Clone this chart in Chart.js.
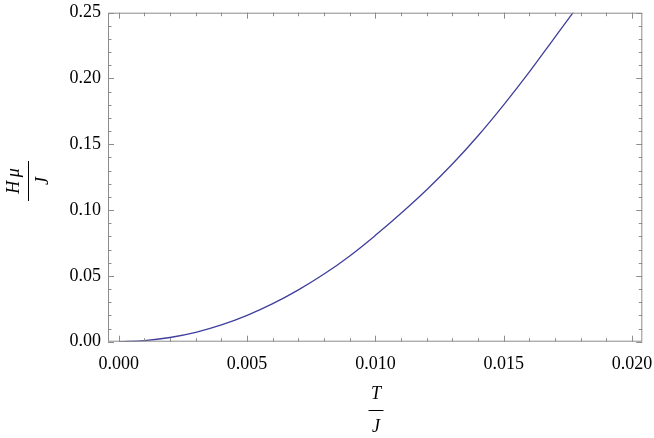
<!DOCTYPE html>
<html>
<head>
<meta charset="utf-8">
<script src="https://cdn.jsdelivr.net/npm/chart.js@4/dist/chart.umd.min.js"></script>
<style>
  html, body { margin: 0; padding: 0; background: #ffffff; }
  #wrap { width: 654px; height: 438px; }
</style>
</head>
<body>
<div id="wrap"><canvas id="c" width="654" height="438"></canvas></div>
<script>
// Data (T/J vs Hμ/J)
const tValues = [0, 0.001, 0.002, 0.003, 0.004, 0.005, 0.006, 0.007, 0.008, 0.009,
                 0.010, 0.011, 0.012, 0.013, 0.014, 0.015, 0.016, 0.017, 0.0177, 0.018];
const hValues = [0, 0.0008, 0.0032, 0.0071, 0.0127, 0.0200, 0.0289, 0.0394, 0.0514, 0.0652,
                 0.0808, 0.0976, 0.1155, 0.1350, 0.1565, 0.1800, 0.2050, 0.2315, 0.2500, 0.2585];
const xTickLabels = ["0.000", "0.005", "0.010", "0.015", "0.020"];
const yTickLabels = ["0.00", "0.05", "0.10", "0.15", "0.20", "0.25"];
const xTitleNum = "T", xTitleDen = "J";
const yTitleNum = "H\u2009μ", yTitleDen = "J";

const points = tValues.map((t, i) => ({ x: t, y: hValues[i] }));

const FRAME = '#8c8c8c';
const serif = '"Liberation Serif", "DejaVu Serif", serif';

const framePlugin = {
  id: 'mmaFrame',
  afterDraw(chart) {
    const { ctx, chartArea: a, scales } = chart;
    const xs = scales.x, ys = scales.y;
    ctx.save();
    ctx.strokeStyle = FRAME;
    ctx.lineWidth = 1;
    ctx.strokeRect(a.left + 0.5, a.top + 0.5, a.right - a.left - 1, a.bottom - a.top - 1);
    for (let i = 0; i <= 20; i++) {
      const v = i / 1000;
      const px = Math.round(xs.getPixelForValue(v)) + 0.5;
      if (px < a.left || px > a.right) continue;
      const len = (i % 5 === 0) ? 6 : 3.5;
      ctx.beginPath();
      ctx.moveTo(px, a.bottom); ctx.lineTo(px, a.bottom - len);
      ctx.moveTo(px, a.top); ctx.lineTo(px, a.top + len);
      ctx.stroke();
    }
    for (let i = 0; i <= 25; i++) {
      const v = i / 100;
      const py = Math.round(ys.getPixelForValue(v)) + 0.5;
      const len = (i % 5 === 0) ? 6 : 3.5;
      ctx.beginPath();
      ctx.moveTo(a.left, py); ctx.lineTo(a.left + len, py);
      ctx.moveTo(a.right, py); ctx.lineTo(a.right - len, py);
      ctx.stroke();
    }
    ctx.fillStyle = '#000';
    ctx.strokeStyle = '#000';
    ctx.font = 'italic 18px ' + serif;
    ctx.textAlign = 'center';
    ctx.textBaseline = 'middle';
    const cx = 376;
    ctx.fillText(xTitleNum, cx, 394);
    ctx.beginPath(); ctx.moveTo(cx - 7.5, 410.5); ctx.lineTo(cx + 7.5, 410.5); ctx.stroke();
    ctx.fillText(xTitleDen, cx, 427);

    ctx.translate(28.5, 181);
    ctx.rotate(-Math.PI / 2);
    ctx.fillText(yTitleNum, 0, -14);
    ctx.beginPath(); ctx.moveTo(-20, 0); ctx.lineTo(20, 0); ctx.stroke();
    ctx.fillText(yTitleDen, 0, 15);
    ctx.restore();
  }
};

function zeroPad(s) { s.paddingLeft = 0; s.paddingRight = 0; s.paddingTop = 0; s.paddingBottom = 0; }

new Chart(document.getElementById('c'), {
  type: 'line',
  data: {
    datasets: [{
      data: points,
      borderColor: '#3f3f9c',
      borderWidth: 1.3,
      pointRadius: 0,
      tension: 0.4,
      fill: false
    }]
  },
  options: {
    responsive: false,
    animation: false,
    layout: { padding: { left: 0, right: 11.7, top: 12.7, bottom: 0 } },
    plugins: { legend: { display: false }, tooltip: { enabled: false } },
    scales: {
      x: {
        type: 'linear',
        min: -0.00042,
        max: 0.0204,
        grid: { display: false, drawTicks: false },
        border: { display: false },
        afterFit(s) { s.height = 96.3; zeroPad(s); },
        afterBuildTicks(s) { s.ticks = xTickLabels.map(l => ({ value: parseFloat(l) })); },
        ticks: {
          padding: 12,
          color: '#000',
          font: { family: serif, size: 18 },
          maxRotation: 0,
          autoSkip: false,
          callback: (v) => xTickLabels.find(l => Math.abs(parseFloat(l) - v) < 1e-9)
        }
      },
      y: {
        type: 'linear',
        min: 0,
        max: 0.25,
        grid: { display: false, drawTicks: false },
        border: { display: false },
        afterFit(s) { s.width = 108; zeroPad(s); },
        afterBuildTicks(s) { s.ticks = yTickLabels.map(l => ({ value: parseFloat(l) })); },
        ticks: {
          padding: 7,
          color: '#000',
          font: { family: serif, size: 18 },
          autoSkip: false,
          callback: (v) => yTickLabels.find(l => Math.abs(parseFloat(l) - v) < 1e-9)
        }
      }
    }
  },
  plugins: [framePlugin]
});
</script>
</body>
</html>
